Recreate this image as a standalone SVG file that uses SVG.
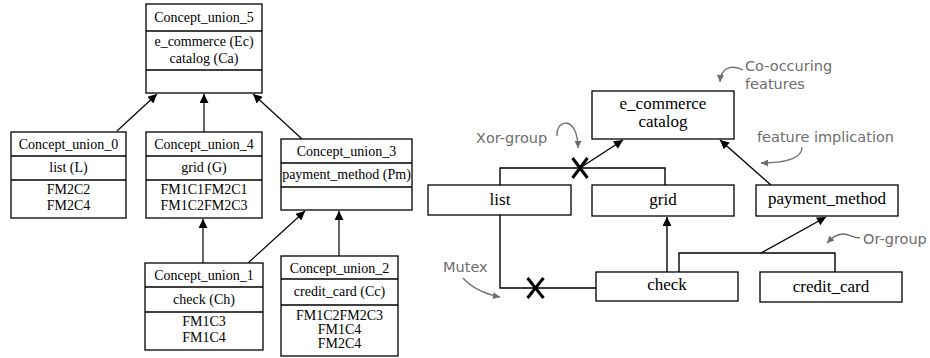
<svg xmlns="http://www.w3.org/2000/svg" width="930" height="358" viewBox="0 0 930 358">
<style>
.box{fill:#fff;stroke:#000;stroke-width:1.3}
.div{stroke:#000;stroke-width:1.3}
.t{font-family:'Liberation Serif','Times New Roman',Tinos,'DejaVu Serif',serif;font-size:14px;fill:#000;text-anchor:middle}
.tr{font-family:'Liberation Serif','Times New Roman',Tinos,'DejaVu Serif',serif;font-size:17px;fill:#000;text-anchor:middle}
.ann{font-family:'DejaVu Sans','Liberation Sans',sans-serif;font-size:14.5px;fill:#6e6e6e}
.e{fill:none;stroke:#000;stroke-width:1.2}
.g{fill:none;stroke:#000;stroke-width:1.4}
.x{stroke:#000;stroke-width:3}
.ga{fill:none;stroke:#6e6e6e;stroke-width:1.3}
</style>
<defs>
<marker id="ah" viewBox="0 0 10 10" refX="10" refY="5" markerWidth="12" markerHeight="9" markerUnits="userSpaceOnUse" orient="auto"><path d="M0,0 L10,5 L0,10 z" fill="#000"/></marker>
<marker id="gh" viewBox="0 0 10 10" refX="10" refY="5" markerWidth="9" markerHeight="7" markerUnits="userSpaceOnUse" orient="auto"><path d="M0,0 L10,5 L0,10 z" fill="#6e6e6e"/></marker>
</defs>

<g id="connectors">
<line class="e" x1="117" y1="131" x2="157" y2="94" marker-end="url(#ah)"/>
<line class="e" x1="204" y1="132" x2="204" y2="94" marker-end="url(#ah)"/>
<line class="e" x1="302" y1="139" x2="253" y2="94" marker-end="url(#ah)"/>
<line class="e" x1="203" y1="263" x2="203" y2="219" marker-end="url(#ah)"/>
<line class="e" x1="248" y1="263" x2="305" y2="211" marker-end="url(#ah)"/>
<line class="e" x1="339" y1="256" x2="339" y2="211" marker-end="url(#ah)"/>

<polyline class="g" points="500,185 500,168 665,168 665,185"/>
<line class="g" x1="580" y1="168" x2="623" y2="140" marker-end="url(#ah)"/>
<line class="x" x1="572.5" y1="158" x2="587.5" y2="178"/>
<line class="x" x1="587.5" y1="158" x2="572.5" y2="178"/>
<line class="g" x1="771" y1="185" x2="720" y2="140" marker-end="url(#ah)"/>
<line class="g" x1="667" y1="272" x2="667" y2="217" marker-end="url(#ah)"/>
<polyline class="g" points="679,272 679,253 835,253 835,272"/>
<line class="g" x1="761" y1="253" x2="826" y2="217" marker-end="url(#ah)"/>
<polyline class="g" points="500,215 500,288 596,288"/>
<line class="x" x1="527.5" y1="278" x2="543.5" y2="298"/>
<line class="x" x1="543.5" y1="278" x2="527.5" y2="298"/>
</g>

<g id="Concept_union_5">
<rect class="box" x="146" y="4" width="116" height="89"/>
<line class="div" x1="146" y1="31" x2="262" y2="31"/>
<line class="div" x1="146" y1="70" x2="262" y2="70"/>
<text class="t" x="204" y="22">Concept_union_5</text>
<text class="t" x="204" y="46">e_commerce (Ec)</text>
<text class="t" x="204" y="63">catalog (Ca)</text>
</g>
<g id="Concept_union_0">
<rect class="box" x="11" y="132" width="115" height="86"/>
<line class="div" x1="11" y1="156" x2="126" y2="156"/>
<line class="div" x1="11" y1="180" x2="126" y2="180"/>
<text class="t" x="68.5" y="149">Concept_union_0</text>
<text class="t" x="68.5" y="172">list (L)</text>
<text class="t" x="68.5" y="194">FM2C2</text>
<text class="t" x="68.5" y="210">FM2C4</text>
</g>
<g id="Concept_union_4">
<rect class="box" x="146" y="132" width="116" height="86"/>
<line class="div" x1="146" y1="156" x2="262" y2="156"/>
<line class="div" x1="146" y1="180" x2="262" y2="180"/>
<text class="t" x="204" y="149">Concept_union_4</text>
<text class="t" x="204" y="172">grid (G)</text>
<text class="t" x="204" y="194">FM1C1FM2C1</text>
<text class="t" x="204" y="210">FM1C2FM2C3</text>
</g>
<g id="Concept_union_3">
<rect class="box" x="281" y="139" width="131" height="71"/>
<line class="div" x1="281" y1="163" x2="412" y2="163"/>
<line class="div" x1="281" y1="187" x2="412" y2="187"/>
<text class="t" x="346.5" y="156">Concept_union_3</text>
<text class="t" x="346.5" y="179">payment_method (Pm)</text>
</g>
<g id="Concept_union_1">
<rect class="box" x="145" y="263" width="118" height="87"/>
<line class="div" x1="145" y1="287" x2="263" y2="287"/>
<line class="div" x1="145" y1="312" x2="263" y2="312"/>
<text class="t" x="204" y="280">Concept_union_1</text>
<text class="t" x="204" y="304">check (Ch)</text>
<text class="t" x="204" y="326">FM1C3</text>
<text class="t" x="204" y="342">FM1C4</text>
</g>
<g id="Concept_union_2">
<rect class="box" x="281" y="256" width="117" height="100"/>
<line class="div" x1="281" y1="279" x2="398" y2="279"/>
<line class="div" x1="281" y1="305" x2="398" y2="305"/>
<text class="t" x="339.5" y="273">Concept_union_2</text>
<text class="t" x="339.5" y="296">credit_card (Cc)</text>
<text class="t" x="339.5" y="320">FM1C2FM2C3</text>
<text class="t" x="339.5" y="334">FM1C4</text>
<text class="t" x="339.5" y="348">FM2C4</text>
</g>

<g id="e_commerce_catalog">
<rect class="box" x="592" y="91" width="142" height="48"/>
<text class="tr" x="663" y="109">e_commerce</text>
<text class="tr" x="663" y="127">catalog</text>
</g>
<g id="list">
<rect class="box" x="428" y="185" width="143" height="30"/>
<text class="tr" x="500" y="205">list</text>
</g>
<g id="grid">
<rect class="box" x="592" y="185" width="142" height="31"/>
<text class="tr" x="663" y="205">grid</text>
</g>
<g id="payment_method">
<rect class="box" x="756" y="185" width="142" height="31"/>
<text class="tr" x="827" y="204">payment_method</text>
</g>
<g id="check">
<rect class="box" x="596" y="272" width="142" height="29"/>
<text class="tr" x="667" y="290">check</text>
</g>
<g id="credit_card">
<rect class="box" x="760" y="272" width="142" height="30"/>
<text class="tr" x="831" y="292">credit_card</text>
</g>

<g id="annotations">
<text class="ann" x="745" y="71">Co-occuring</text>
<text class="ann" x="745" y="89">features</text>
<path class="ga" d="M743,70 C733,65 721,66 720,82" marker-end="url(#gh)"/>
<text class="ann" x="757" y="142">feature implication</text>
<path class="ga" d="M802,147 C802,158 786,163 761,163" marker-end="url(#gh)"/>
<text class="ann" x="476" y="143">Xor-group</text>
<path class="ga" d="M557,136 C556,118 578,116 578,148" marker-end="url(#gh)"/>
<text class="ann" x="863" y="244">Or-group</text>
<path class="ga" d="M860,238 C852,238 850,234 843,234 C836,234 832,238 827,243" marker-end="url(#gh)"/>
<text class="ann" x="443" y="272">Mutex</text>
<path class="ga" d="M463,278 C472,288 485,294 500,297" marker-end="url(#gh)"/>
</g>
</svg>
